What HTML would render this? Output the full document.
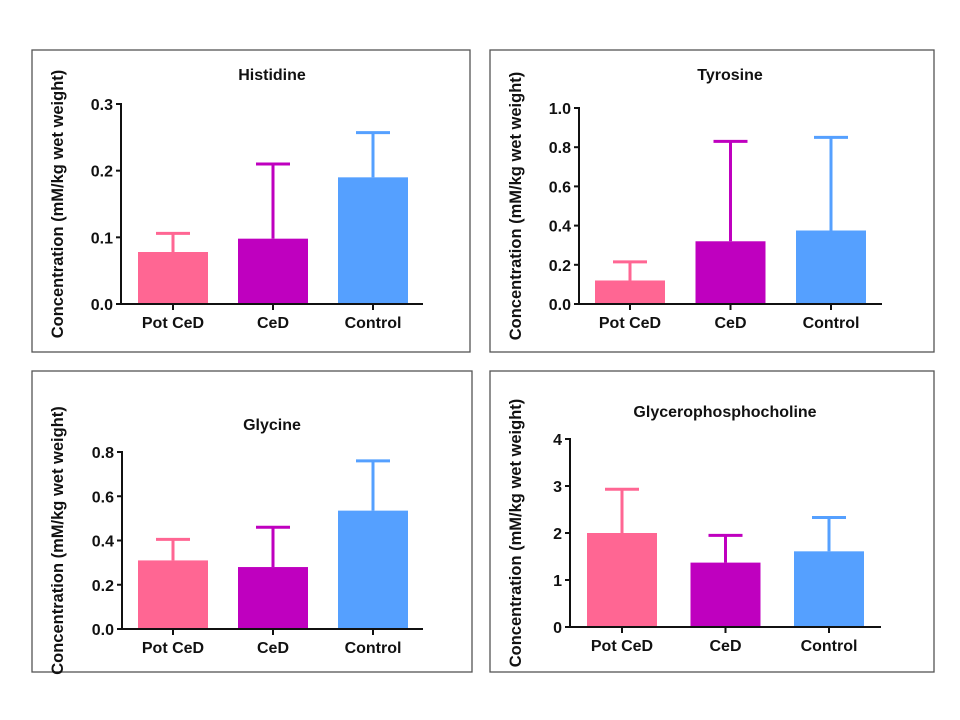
<!DOCTYPE html>
<html><head><meta charset="utf-8"><style>
body{margin:0;background:#fff;}
svg{display:block;font-family:"Liberation Sans",Arial,sans-serif;}
</style></head><body>
<svg id="c" width="960" height="720"></svg>
<script>
const categories=["Pot CeD","CeD","Control"];
const histMean=[0.078,0.098,0.19];
const histErr=[0.106,0.21,0.257];
const tyrMean=[0.12,0.32,0.375];
const tyrErr=[0.215,0.83,0.85];
const glyMean=[0.31,0.28,0.535];
const glyErr=[0.405,0.46,0.76];
const gpcMean=[2.0,1.37,1.61];
const gpcErr=[2.93,1.95,2.33];
const histTicks=["0.0","0.1","0.2","0.3"];
const tyrTicks=["0.0","0.2","0.4","0.6","0.8","1.0"];
const glyTicks=["0.0","0.2","0.4","0.6","0.8"];
const gpcTicks=["0","1","2","3","4"];
const colors=["#ff6693","#bf00bf","#55a0ff"];
const NS="http://www.w3.org/2000/svg";
const svg=document.getElementById('c');
function mk(tag,attrs,parent,text){const e=document.createElementNS(NS,tag);for(const k in attrs)e.setAttribute(k,attrs[k]);if(text!==undefined)e.textContent=text;(parent||svg).appendChild(e);return e;}
function panel(p){
  const g=mk('g',{});
  
  
  const box=mk('rect',{x:p.bx,y:p.by,width:p.bw,height:p.bh,fill:'#fff',stroke:'#555','stroke-width':1.3},g);
  
  
  const t=mk('text',{x:p.tx,y:p.ty,'text-anchor':'middle','font-size':16,'font-weight':'bold',fill:'#111'},g,p.title);
  
  
  const yt=mk('text',{x:0,y:0,transform:`translate(${p.ytx},${(p.top+p.bot)/2}) rotate(-90)`,'text-anchor':'middle','font-size':16.5,'font-weight':'bold',fill:'#111'},g,'Concentration (mM/kg wet weight)');
  
  
  const max=parseFloat(p.ticks[p.ticks.length-1]);
  const y=v=>p.bot-(v/max)*(p.bot-p.top);
  const xc=i=>p.x0+p.gap*i;
  const bw=70;
  categories.forEach((c,i)=>{
    const cx=xc(i);
    const eb=mk('g',{},g);
    
    
    mk('line',{x1:cx,x2:cx,y1:y(p.mean[i]),y2:y(p.err[i]),stroke:colors[i],'stroke-width':3},eb);
    mk('line',{x1:cx-17,x2:cx+17,y1:y(p.err[i]),y2:y(p.err[i]),stroke:colors[i],'stroke-width':3},eb);
    const r=mk('rect',{x:cx-bw/2,y:y(p.mean[i]),width:bw,height:p.bot-y(p.mean[i]),fill:colors[i]},g);
    
    
    mk('line',{x1:cx,x2:cx,y1:p.bot,y2:p.bot+6,stroke:'#111','stroke-width':2},g);
    const l=mk('text',{x:cx,y:p.bot+24,'text-anchor':'middle','font-size':16,'font-weight':'bold',fill:'#111'},g,c);
    
    
  });
  p.ticks.forEach(tk=>{
    const v=parseFloat(tk);
    mk('line',{x1:p.ax-5,x2:p.ax,y1:y(v),y2:y(v),stroke:'#111','stroke-width':2},g);
    const l=mk('text',{x:p.ax-8,y:y(v)+6,'text-anchor':'end','font-size':16,'font-weight':'bold',fill:'#111'},g,tk);
    
    
  });
  const ya=mk('line',{x1:p.ax,x2:p.ax,y1:p.top-1,y2:p.bot+1,stroke:'#111','stroke-width':2},g);
  
  
  const xa=mk('line',{x1:p.ax,x2:p.xend,y1:p.bot,y2:p.bot,stroke:'#111','stroke-width':2},g);
  
  
}
panel({name:'histidine',title:'Histidine',bx:32,by:50,bw:438,bh:302,tx:272,ty:80,ytx:63,ax:121,top:104,bot:304,xend:423,x0:173,gap:100,mean:histMean,err:histErr,ticks:histTicks});
panel({name:'tyrosine',title:'Tyrosine',bx:490,by:50,bw:444,bh:302,tx:730,ty:80,ytx:521,ax:579,top:108,bot:304,xend:882,x0:630,gap:100.5,mean:tyrMean,err:tyrErr,ticks:tyrTicks});
panel({name:'glycine',title:'Glycine',bx:32,by:371,bw:440,bh:301,tx:272,ty:430,ytx:63,ax:122,top:452,bot:629,xend:423,x0:173,gap:100,mean:glyMean,err:glyErr,ticks:glyTicks});
panel({name:'glycerophosphocholine',title:'Glycerophosphocholine',bx:490,by:371,bw:444,bh:301,tx:725,ty:417,ytx:521,ax:570,top:439,bot:627,xend:881,x0:622,gap:103.5,mean:gpcMean,err:gpcErr,ticks:gpcTicks});
</script>
</body></html>
